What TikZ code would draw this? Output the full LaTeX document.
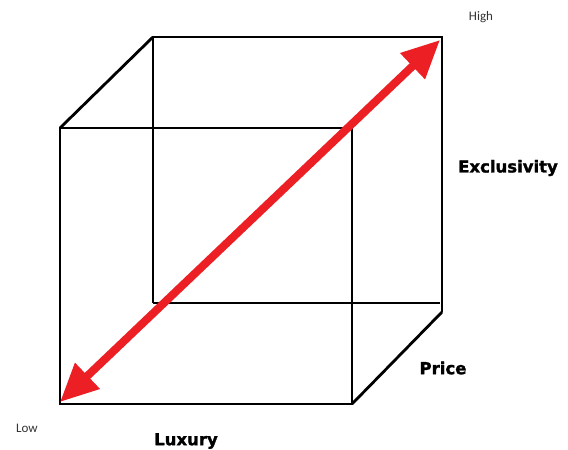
\documentclass[tikz,border=0pt]{standalone}
\usepackage{fontspec}
\setmainfont{DejaVu Sans}[BoldFeatures={FakeBold=1.6}]
\newfontfamily\smallfont{Carlito}
\usetikzlibrary{arrows.meta}
\definecolor{arrowred}{RGB}{236,32,36}
\begin{document}
\begin{tikzpicture}[x=1pt, y=-1pt,
        edge/.style={line width=2.8pt, black},
        axislabel/.style={font=\bfseries\fontsize{16.5}{16.5}\selectfont, inner sep=0pt},
        endlabel/.style={font=\smallfont\fontsize{13}{13}\selectfont, inner sep=0pt, text=black!80}]

        \useasboundingbox (0,0) rectangle (568,450);

        % --- Cube corners ---
        \coordinate (ftl) at (60,128);
        \coordinate (ftr) at (352,128);
        \coordinate (fbl) at (60,404);
        \coordinate (fbr) at (352,404);
        \coordinate (btl) at (153,37);
        \coordinate (btr) at (442,37);
        \coordinate (bbl) at (153,303);
        \coordinate (bbr) at (440,303);
        \coordinate (bcr) at (442,312);

        % --- Front face ---
        \draw[edge] (ftl) -- (ftr) -- (fbr) -- (fbl) -- cycle;

        % --- Back face ---
        \draw[edge] (bbl) -- (btl) -- (btr) -- (bcr);
        \draw[edge] (bbl) -- (bbr);

        % --- Connecting edges ---
        \draw[edge] (ftl) -- (btl);
        \draw[edge] (fbr) -- (bcr);

        % --- Diagonal arrow Low -> High ---
        \coordinate (low) at (60,402);
        \coordinate (high) at (440,40);
        \draw[arrowred, line width=8pt,
              {Triangle[length=38pt, width=34pt]}-{Triangle[length=38pt, width=34pt]}]
            (low) -- (high);

        % --- Labels ---
        \node[endlabel] (highlbl) at (481,17) {High};
        \node[endlabel] (lowlbl) at (27,428) {Low};
        \node[axislabel] (exclbl) at (508,168) {Exclusivity};
        \node[axislabel] (pricelbl) at (443,368) {Price};
        \node[axislabel] (luxlbl) at (186,441) {Luxury};

    \end{tikzpicture}
\end{document}
